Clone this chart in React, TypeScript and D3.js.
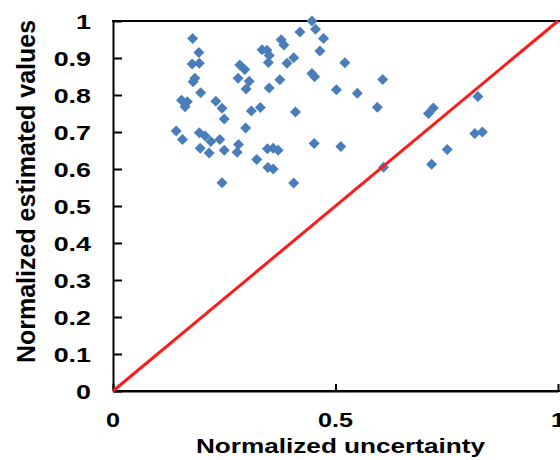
import React, { useEffect, useRef } from 'react';
import * as d3 from 'd3';

// normalized uncertainty (x) and normalized estimated value (y)
const uncertainty = [
  0.179, 0.193, 0.178, 0.194, 0.184, 0.180, 0.197, 0.154, 0.167, 0.162,
  0.142, 0.156, 0.194, 0.207, 0.220, 0.240, 0.196, 0.216, 0.250, 0.245,
  0.231, 0.245, 0.250, 0.298, 0.282, 0.279, 0.323, 0.347, 0.360, 0.371,
  0.348, 0.360, 0.406, 0.410, 0.311, 0.331, 0.351, 0.375, 0.281, 0.306,
  0.299, 0.285, 0.296, 0.335, 0.346, 0.351, 0.349, 0.378, 0.384, 0.391,
  0.406, 0.420, 0.447, 0.455, 0.473, 0.465, 0.521, 0.447, 0.453, 0.502,
  0.549, 0.606, 0.594, 0.720, 0.709, 0.820, 0.813, 0.830, 0.751, 0.716,
  0.608, 0.452, 0.512,
];
const estimated = [
  0.953, 0.915, 0.884, 0.886, 0.845, 0.836, 0.806, 0.786, 0.782, 0.768,
  0.703, 0.680, 0.698, 0.689, 0.674, 0.680, 0.656, 0.643, 0.651, 0.563,
  0.783, 0.764, 0.735, 0.711, 0.666, 0.645, 0.626, 0.655, 0.656, 0.651,
  0.604, 0.600, 0.562, 0.754, 0.757, 0.766, 0.819, 0.841, 0.845, 0.837,
  0.816, 0.881, 0.869, 0.922, 0.921, 0.907, 0.888, 0.949, 0.935, 0.886,
  0.901, 0.970, 1.000, 0.978, 0.953, 0.919, 0.887, 0.858, 0.849, 0.814,
  0.805, 0.842, 0.767, 0.765, 0.750, 0.796, 0.696, 0.700, 0.653, 0.613,
  0.605, 0.669, 0.661,
];
const xTicks = [0, 0.5, 1];
const xTickLabels = ['0', '0.5', '1'];
const yTicks = [0, 0.1, 0.2, 0.3, 0.4, 0.5, 0.6, 0.7, 0.8, 0.9, 1];
const yTickLabels = ['0', '0.1', '0.2', '0.3', '0.4', '0.5', '0.6', '0.7', '0.8', '0.9', '1'];
const reference = [0, 1]; // y = x line

const App = () => {
  const ref = useRef<SVGSVGElement | null>(null);

  useEffect(() => {
    const width = 560, height = 460;
    const left = 113, right = 558, top = 21, bottom = 391;
    const font = '"Liberation Sans", Arial, sans-serif';

    const svg = d3.select(ref.current);
    svg.selectAll('*').remove();

    const x = d3.scaleLinear().domain([0, 1]).range([left, right]);
    const y = d3.scaleLinear().domain([0, 1]).range([bottom, top]);

    // frame: left axis, bottom axis, top line
    const yAxis = svg.append('g')
      .attr('transform', `translate(${left},0)`)
      .call(d3.axisLeft(y).tickValues(yTicks).tickSizeInner(-9).tickSizeOuter(0).tickFormat(() => ''));
    yAxis.selectAll('path, line').attr('stroke', '#000').attr('stroke-width', 2);

    const xAxis = svg.append('g')
      .attr('transform', `translate(0,${bottom})`)
      .call(d3.axisBottom(x).tickValues(xTicks).tickSizeInner(-7).tickSizeOuter(0).tickFormat(() => ''));
    xAxis.selectAll('path, line').attr('stroke', '#000').attr('stroke-width', 2);

    svg.append('line')
      .attr('x1', left).attr('x2', width).attr('y1', bottom).attr('y2', bottom)
      .attr('stroke', '#000').attr('stroke-width', 2);
    svg.append('line')
      .attr('x1', left - 1).attr('x2', width).attr('y1', top).attr('y2', top)
      .attr('stroke', '#000').attr('stroke-width', 2);

    // tick labels (the original is stretched sideways)
    svg.append('g').selectAll('text')
      .data(yTicks)
      .join('text')
      .attr('transform', d => `translate(91,${y(d)}) scale(1.28,1)`)
      .attr('dy', '0.36em')
      .attr('text-anchor', 'end')
      .attr('font-family', font)
      .attr('font-weight', 'bold')
      .attr('font-size', 21)
      .text((d, i) => yTickLabels[i]);

    svg.append('g').selectAll('text')
      .data(xTicks)
      .join('text')
      .attr('transform', d => `translate(${x(d)},427) scale(1.2,1)`)
      .attr('text-anchor', 'middle')
      .attr('font-family', font)
      .attr('font-weight', 'bold')
      .attr('font-size', 21)
      .text((d, i) => xTickLabels[i]);

    // axis titles
    svg.append('text')
      .attr('transform', 'translate(340.5,452.5) scale(1.245,1)')
      .attr('text-anchor', 'middle')
      .attr('font-family', font)
      .attr('font-weight', 'bold')
      .attr('font-size', 21)
      .text('Normalized uncertainty');

    svg.append('text')
      .attr('transform', 'translate(35,191.5) rotate(-90)')
      .attr('text-anchor', 'middle')
      .attr('font-family', font)
      .attr('font-weight', 'bold')
      .attr('font-size', 25)
      .text('Normalized estimated values');

    // scatter points
    const r = 5.5;
    svg.append('g').selectAll('path')
      .data(uncertainty)
      .join('path')
      .attr('d', (d, i) => {
        const cx = x(d), cy = y(estimated[i]);
        return `M${cx},${cy - r}L${cx + r},${cy}L${cx},${cy + r}L${cx - r},${cy}Z`;
      })
      .attr('fill', '#4a7ebb');

    // y = x reference line
    const line = d3.line<number>().x(d => x(d)).y(d => y(d));
    svg.append('path')
      .attr('d', line(reference))
      .attr('fill', 'none')
      .attr('stroke', '#ff1a1a')
      .attr('stroke-width', 3);

    svg.attr('width', width).attr('height', height);
  }, []);

  return (
    <div className="App">
      <svg ref={ref} width={560} height={460} style={{ position: 'absolute', left: 0, top: 0, background: '#fff' }}></svg>
    </div>
  );
};

export default App;
